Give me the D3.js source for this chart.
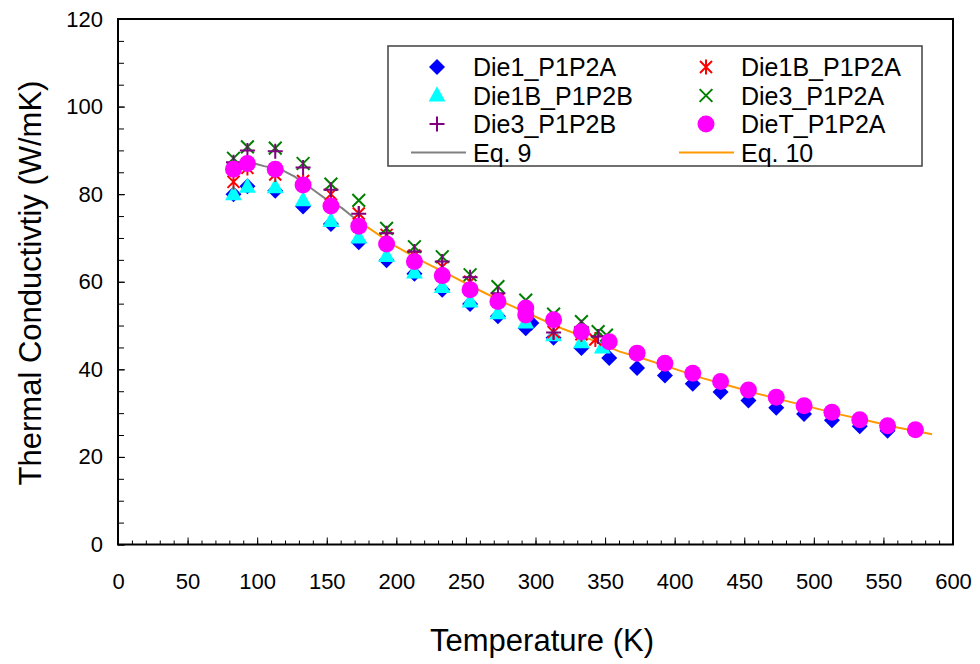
<!DOCTYPE html>
<html><head><meta charset="utf-8">
<script src="https://cdn.jsdelivr.net/npm/d3@7"></script>
<style>
body{margin:0;background:#fff;}
text{font-family:"Liberation Sans",Arial,sans-serif;fill:#000;}
</style></head>
<body><svg id="c" width="980" height="664"></svg>
<script>
// ---- data ----
const die1T = [83,93,113,133,153,173,193,213,233,253,273,293,297,313,333,353,373,393,413,433,453,473,493,513,533,553];
const die1V = [80.0,81.8,80.8,77.2,73.2,69.0,64.9,61.8,58.2,54.9,52.1,49.4,50.6,47.2,44.9,42.6,40.3,38.6,36.7,34.8,32.9,31.2,29.8,28.4,27.0,26.0];
const die1BbT = [83,93,113,133,153,173,193,213,233,253,273,293,313,333,348];
const die1BbV = [80.0,81.7,81.6,78.6,73.9,70.1,65.9,62.1,58.8,55.5,52.8,50.7,47.8,46.2,45.0];
const die3bT = [83,93,113,133,153,173,193,213,233,253,273,293,313,333,345];
const die3bV = [87.3,90.0,89.8,86.1,81.0,75.5,71.1,66.9,64.6,61.0,57.4,53.8,48.4,49.6,47.5];
const die1BaT = [83,93,113,133,153,173,193,213,233,253,273,293,313,333,343];
const die1BaV = [82.8,86.0,84.5,83.0,80.0,75.6,70.7,66.0,63.4,60.0,56.0,53.2,48.5,48.0,46.8];
const die3aT = [83,93,113,133,153,173,193,213,233,253,273,293,313,333,345,351];
const die3aV = [88.2,90.8,90.5,87.0,82.3,78.6,72.2,68.0,65.7,61.6,58.9,55.8,52.6,50.9,48.6,47.8];
const dieTT = [83,93,113,133,153,173,193,213,233,253,273,293,293,313,333,353,373,393,413,433,453,473,493,513,533,553,573];
const dieTV = [85.7,87.0,85.7,82.1,77.3,72.7,68.6,64.6,61.4,58.2,55.5,54.0,52.4,51.3,48.6,46.3,43.7,41.4,39.1,37.2,35.3,33.6,31.7,30.2,28.5,27.1,26.2];
const eq9T = [93,97,105,118,127,139,149,161,168,173];
const eq9V = [87.3,87.1,86.4,85.5,84.0,81.3,79.0,76.8,75.0,73.8];
const eq10T = [172,180,200,220,240,260,280,300,320,340,360,380,400,420,440,460,480,500,520,540,560,585];
const eq10V = [74.0,72.3,68.0,64.5,61.3,58.0,54.9,52.0,49.2,46.8,44.1,42.2,40.1,38.0,36.2,34.4,32.8,31.2,29.6,28.2,26.7,25.2];
const xTicks = [0,50,100,150,200,250,300,350,400,450,500,550,600];
const yTicks = [0,20,40,60,80,100,120];

const svg = d3.select("#c");
const x = d3.scaleLinear().domain([0,600]).range([118,953]);
const y = d3.scaleLinear().domain([0,120]).range([544.5,19]);

// marker path generators (half size s)
const shapes = {
  diamond: s => `M0,${-s}L${s},0L0,${s}L${-s},0Z`,
  triangle: s => `M0,${-s*1.15}L${s*1.05},${s*0.75}L${-s*1.05},${s*0.75}Z`,
  plus: s => `M${-s},0L${s},0M0,${-s}L0,${s}`,
  star: s => `M${-s*0.8},${-s*0.8}L${s*0.8},${s*0.8}M${-s*0.8},${s*0.8}L${s*0.8},${-s*0.8}M0,${-s}L0,${s}`,
  cross: s => `M${-s*0.75},${-s*0.75}L${s*0.75},${s*0.75}M${-s*0.75},${s*0.75}L${s*0.75},${-s*0.75}`,
  circle: s => `M${s},0A${s},${s},0,1,1,${-s},0A${s},${s},0,1,1,${s},0Z`
};

// lines
const line = d3.line().x(d=>x(d[0])).y(d=>y(d[1]));
svg.append("path").attr("d", line(d3.zip(eq9T,eq9V))).attr("fill","none").attr("stroke","#808080").attr("stroke-width",2);
svg.append("path").attr("d", line(d3.zip(eq10T,eq10V))).attr("fill","none").attr("stroke","#FF9900").attr("stroke-width",2);

const series = [
  {name:"Die1_P1P2A", T:die1T, V:die1V, shape:"diamond", size:8, color:"#0000FF", fill:true},
  {name:"Die1B_P1P2B", T:die1BbT, V:die1BbV, shape:"triangle", size:8, color:"#00FFFF", fill:true},
  {name:"Die1B_P1P2A", T:die1BaT, V:die1BaV, shape:"star", size:7.5, color:"#FF0000", fill:false},
  {name:"Die3_P1P2A", T:die3aT, V:die3aV, shape:"cross", size:8.5, color:"#008000", fill:false},
  {name:"Die3_P1P2B", T:die3bT, V:die3bV, shape:"plus", size:7.5, color:"#800080", fill:false},
  {name:"DieT_P1P2A", T:dieTT, V:dieTV, shape:"circle", size:8.5, color:"#FF00FF", fill:true}
];
series.forEach(s=>{
  svg.append("g").selectAll("path").data(d3.zip(s.T,s.V)).join("path")
    .attr("transform", d=>`translate(${x(d[0])},${y(d[1])})`)
    .attr("d", shapes[s.shape](s.size))
    .attr("fill", s.fill? s.color : "none")
    .attr("stroke", s.fill? "none" : s.color)
    .attr("stroke-width", 2);
});

// frame
svg.append("rect").attr("x",118).attr("y",19).attr("width",835).attr("height",525.5)
  .attr("fill","none").attr("stroke","#000").attr("stroke-width",2);

// axes
const xMinor = d3.axisBottom(x).tickValues(d3.range(0,601,10)).tickSizeInner(-4).tickSizeOuter(0).tickFormat("");
svg.append("g").attr("transform","translate(0,544.5)").call(xMinor).call(g=>g.select(".domain").remove());
const xMajor = d3.axisBottom(x).tickValues(xTicks).tickSizeInner(-7).tickSizeOuter(0).tickPadding(29);
svg.append("g").attr("transform","translate(0,544.5)").call(xMajor)
  .call(g=>g.select(".domain").remove())
  .call(g=>g.selectAll("text").attr("font-size",22).attr("font-family","Liberation Sans, Arial"));
const yMinor = d3.axisLeft(y).tickValues(d3.range(0,121,5)).tickSizeInner(-6).tickSizeOuter(0).tickFormat("");
svg.append("g").attr("transform","translate(118,0)").call(yMinor).call(g=>g.select(".domain").remove());
const yMajor = d3.axisLeft(y).tickValues(yTicks).tickSizeInner(-7).tickSizeOuter(0).tickPadding(15);
svg.append("g").attr("transform","translate(118,0)").call(yMajor)
  .call(g=>g.select(".domain").remove())
  .call(g=>g.selectAll("text").attr("font-size",22).attr("font-family","Liberation Sans, Arial"));
svg.selectAll(".tick line").attr("stroke","#000").attr("stroke-width",1);

// titles
svg.append("text").attr("x",542).attr("y",651).attr("text-anchor","middle").attr("font-size",31).text("Temperature (K)");
svg.append("text").attr("transform","translate(41,283) rotate(-90)").attr("text-anchor","middle").attr("font-size",31).text("Thermal Conductivtiy (W/mK)");

// legend
const lg = svg.append("g");
lg.append("rect").attr("x",388).attr("y",46).attr("width",534).attr("height",120).attr("fill","#fff").attr("stroke","#404040").attr("stroke-width",1.5);
const rowsY = [67,95.5,124,152.5];
const legendItems = [
  {s:series[0], col:0,row:0},{s:series[2], col:1,row:0},
  {s:series[1], col:0,row:1},{s:series[3], col:1,row:1},
  {s:series[4], col:0,row:2},{s:series[5], col:1,row:2}
];
const colSym = [437,706], colText=[473,741];
legendItems.forEach(it=>{
  const s=it.s;
  lg.append("path").attr("transform",`translate(${colSym[it.col]},${rowsY[it.row]})`)
    .attr("d", shapes[s.shape](s.size)).attr("fill", s.fill? s.color:"none")
    .attr("stroke", s.fill? "none": s.color).attr("stroke-width",2);
  lg.append("text").attr("x",colText[it.col]).attr("y",rowsY[it.row]).attr("dy","0.36em").attr("font-size",25).text(s.name);
});
const lineItems = [{name:"Eq. 9", color:"#808080", col:0},{name:"Eq. 10", color:"#FF9900", col:1}];
const lineX = [[411,466],[679,734]];
lineItems.forEach(it=>{
  lg.append("line").attr("x1",lineX[it.col][0]).attr("x2",lineX[it.col][1]).attr("y1",rowsY[3]).attr("y2",rowsY[3]).attr("stroke",it.color).attr("stroke-width",2);
  lg.append("text").attr("x",colText[it.col]).attr("y",rowsY[3]).attr("dy","0.36em").attr("font-size",25).text(it.name);
});
</script></body></html>
